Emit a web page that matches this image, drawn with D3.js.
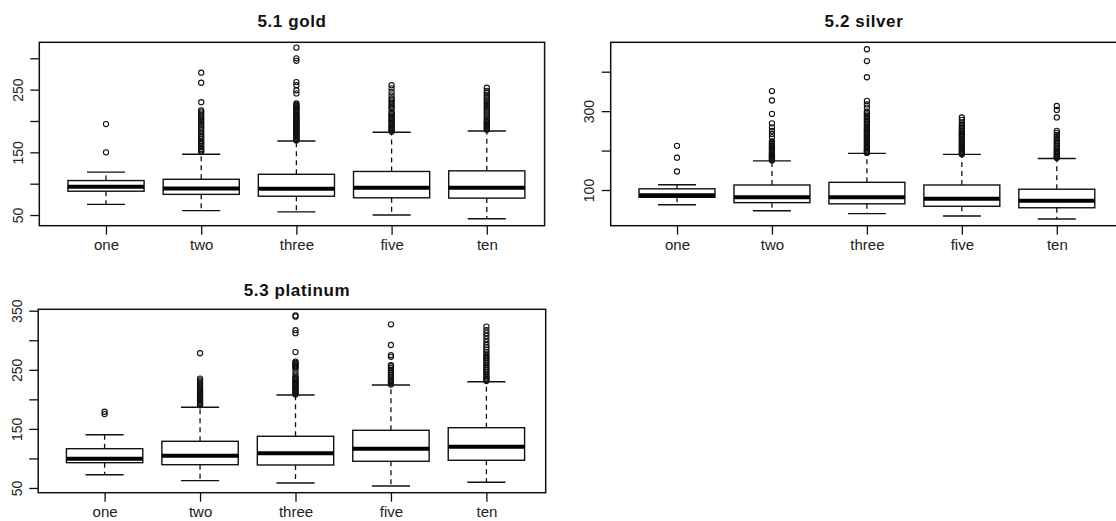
<!DOCTYPE html>
<html lang="en">
<head>
    <meta charset="UTF-8">
    <title>Boxplots gold silver platinum</title>
    <script src="https://d3js.org/d3.v7.min.js"></script>
    <style>
        body {
            margin: 0;
            background: #fff;
        }
        svg {
            display: block;
            font-family: "Liberation Sans", Arial, sans-serif;
        }
        .title {
            font-size: 17px;
            font-weight: bold;
            letter-spacing: 0.6px;
            fill: #111;
        }
        .axis text {
            font-size: 15px;
            fill: #222;
        }
        .axis line {
            stroke: #111;
            stroke-width: 1.3px;
        }
        .frame {
            fill: none;
            stroke: #111;
            stroke-width: 1.5px;
        }
        .box {
            fill: none;
            stroke: #111;
            stroke-width: 1.4px;
        }
        .median {
            stroke: #000;
            stroke-width: 4px;
        }
        .whisker {
            stroke: #111;
            stroke-width: 1.3px;
            stroke-dasharray: 5,4;
        }
        .cap {
            stroke: #111;
            stroke-width: 1.4px;
        }
        .outlier {
            fill: none;
            stroke: #111;
            stroke-width: 1.1px;
        }
    </style>
</head>
<body>

    <svg width="1116" height="521"></svg>

    <script>
        const categories = ["one", "two", "three", "five", "ten"];

        // 5.1 gold
        const goldLow = [67, 57, 55, 50, 44];
        const goldQ1 = [88, 83, 80, 77.5, 77];
        const goldMedian = [95, 92.5, 92, 93.5, 93.5];
        const goldQ3 = [105, 107, 115, 119.5, 120.5];
        const goldHigh = [118.5, 147, 168, 182, 184];
        const goldOutliers = [
            [150, 195],
            [151, 153, 155, 158, 160, 163, 165, 168, 171, 174, 176, 179, 182, 185, 188, 191, 194, 197, 200, 203, 206, 209, 212, 215, 217, 230, 261, 277],
            [169, 170, 172, 173, 175, 176, 178, 179, 181, 182, 184, 185, 187, 188, 190, 191, 193, 194, 196, 197, 199, 200, 202, 203, 205, 206, 208, 210, 212, 214, 216, 218, 220, 222, 224, 226, 228, 244, 249, 257, 262, 296, 300, 317],
            [183, 185, 187, 189, 191, 193, 195, 197, 199, 201, 203, 205, 207, 209, 211, 213, 215, 220, 222, 225, 228, 231, 234, 236, 241, 246, 252, 257],
            [186, 188, 190, 192, 194, 196, 198, 200, 203, 206, 209, 212, 215, 218, 221, 224, 227, 230, 233, 236, 239, 242, 245, 248, 253]
        ];
        const goldTicks = [50, 100, 150, 200, 250, 300];
        const goldLabels = [50, 150, 250];

        // 5.2 silver
        const silverLow = [62.7, 47.5, 40, 34, 26.5];
        const silverQ1 = [81.5, 68, 65, 58.7, 55];
        const silverMedian = [87, 81.5, 81.5, 78, 73];
        const silverQ3 = [103, 112.7, 119.5, 112.7, 102];
        const silverHigh = [113.4, 174, 193, 190.5, 180];
        const silverOutliers = [
            [147, 182, 212],
            [175, 177, 179, 181, 183, 185, 187, 189, 191, 193, 196, 199, 202, 205, 208, 211, 214, 217, 220, 223, 234, 242, 250, 259, 269, 293, 327, 351],
            [194, 196, 198, 200, 203, 206, 209, 212, 215, 218, 221, 224, 227, 230, 233, 236, 239, 242, 245, 248, 251, 254, 257, 260, 264, 268, 272, 276, 280, 284, 288, 292, 296, 299, 309, 317, 326, 386, 427, 457],
            [191, 193, 195, 198, 201, 204, 207, 210, 213, 216, 219, 222, 225, 228, 231, 234, 237, 240, 243, 246, 250, 254, 258, 262, 266, 271, 278, 284],
            [181, 183, 185, 188, 191, 194, 197, 200, 204, 208, 212, 216, 220, 225, 230, 235, 240, 245, 250, 284, 303, 313]
        ];
        const silverTicks = [100, 200, 300, 400];
        const silverLabels = [100, 300];

        // 5.3 platinum
        const platinumLow = [72.5, 62.4, 58.5, 53.4, 59.6];
        const platinumQ1 = [92.8, 89.4, 88.9, 95.2, 96.9];
        const platinumMedian = [99.6, 104.7, 108.7, 116.5, 119.9];
        const platinumQ3 = [116.5, 129, 137.5, 147.6, 152];
        const platinumHigh = [140.2, 186.5, 207.4, 224.3, 229.9];
        const platinumOutliers = [
            [175, 179],
            [190, 192, 194, 196, 198, 200, 202, 204, 206, 208, 210, 212, 214, 216, 218, 220, 223, 226, 229, 232, 235, 278],
            [208, 210, 212, 214, 216, 218, 220, 222, 224, 226, 228, 230, 232, 234, 236, 238, 242, 247, 252, 254, 256, 258, 260, 262, 264, 280, 312, 317, 340, 342],
            [225, 227, 229, 231, 233, 235, 238, 241, 244, 247, 250, 253, 256, 258, 272, 275, 292, 327],
            [231, 233, 235, 237, 240, 243, 246, 249, 252, 255, 258, 261, 264, 267, 270, 273, 276, 280, 284, 288, 292, 297, 302, 307, 312, 317, 323]
        ];
        const platinumTicks = [50, 100, 150, 200, 250, 300, 350];
        const platinumLabels = [50, 150, 250, 350];

        const panels = [
            { title: "5.1 gold", low: goldLow, q1: goldQ1, median: goldMedian, q3: goldQ3, high: goldHigh,
              outliers: goldOutliers, ticks: goldTicks, labels: goldLabels, domain: [33, 325.5],
              left: 39.3, right: 544.6, top: 42.3, bottom: 225.7, first: 106, last: 486.8, titleX: 292, titleY: 27 },
            { title: "5.2 silver", low: silverLow, q1: silverQ1, median: silverMedian, q3: silverQ3, high: silverHigh,
              outliers: silverOutliers, ticks: silverTicks, labels: silverLabels, domain: [9.5, 474.6],
              left: 610.7, right: 1124, top: 42.3, bottom: 225.7, first: 677, last: 1056.8, titleX: 864, titleY: 27 },
            { title: "5.3 platinum", low: platinumLow, q1: platinumQ1, median: platinumMedian, q3: platinumQ3, high: platinumHigh,
              outliers: platinumOutliers, ticks: platinumTicks, labels: platinumLabels, domain: [42, 352.4],
              left: 38.2, right: 545.7, top: 309.3, bottom: 492.7, first: 104.6, last: 486.4, titleX: 297, titleY: 296 }
        ];

        const svg = d3.select("svg");
        panels.forEach(p => drawPanel(p));

        function drawPanel(p) {
            const x = d3.scalePoint().domain(categories).range([p.first, p.last]);
            const y = d3.scaleLinear().domain(p.domain).range([p.bottom, p.top]);
            const boxWidth = 0.8 * x.step();
            const capWidth = boxWidth / 2;

            const g = svg.append("g");

            g.append("text")
                .attr("class", "title")
                .attr("x", p.titleX)
                .attr("y", p.titleY)
                .attr("text-anchor", "middle")
                .text(p.title);

            // y axis, labels parallel to the axis like base R
            const yAxis = g.append("g")
                .attr("class", "axis")
                .attr("transform", `translate(${p.left},0)`)
                .call(d3.axisLeft(y).tickValues(p.ticks).tickSize(9).tickSizeOuter(0)
                    .tickFormat(d => p.labels.includes(d) ? d : ""));
            yAxis.select(".domain").remove();
            yAxis.selectAll("text")
                .attr("transform", "rotate(-90)")
                .attr("x", 0)
                .attr("y", -16.5)
                .attr("dy", 0)
                .attr("text-anchor", "middle")
                .style("font-size", "14px");

            const xAxis = g.append("g")
                .attr("class", "axis")
                .attr("transform", `translate(0,${p.bottom})`)
                .call(d3.axisBottom(x).tickSize(9).tickSizeOuter(0));
            xAxis.select(".domain").remove();
            xAxis.selectAll("text")
                .attr("y", 24.5)
                .attr("dy", 0);

            const stats = categories.map((c, i) => ({
                cat: c, low: p.low[i], q1: p.q1[i], median: p.median[i], q3: p.q3[i], high: p.high[i]
            }));

            const box = g.append("g")
                .selectAll("g")
                .data(stats)
                .enter().append("g");

            box.append("line")
                .attr("class", "whisker")
                .attr("x1", d => x(d.cat)).attr("x2", d => x(d.cat))
                .attr("y1", d => y(d.q3)).attr("y2", d => y(d.high));
            box.append("line")
                .attr("class", "whisker")
                .attr("x1", d => x(d.cat)).attr("x2", d => x(d.cat))
                .attr("y1", d => y(d.q1)).attr("y2", d => y(d.low));

            box.append("line")
                .attr("class", "cap")
                .attr("x1", d => x(d.cat) - capWidth / 2).attr("x2", d => x(d.cat) + capWidth / 2)
                .attr("y1", d => y(d.high)).attr("y2", d => y(d.high));
            box.append("line")
                .attr("class", "cap")
                .attr("x1", d => x(d.cat) - capWidth / 2).attr("x2", d => x(d.cat) + capWidth / 2)
                .attr("y1", d => y(d.low)).attr("y2", d => y(d.low));

            box.append("rect")
                .attr("class", "box")
                .attr("x", d => x(d.cat) - boxWidth / 2)
                .attr("width", boxWidth)
                .attr("y", d => y(d.q3))
                .attr("height", d => y(d.q1) - y(d.q3));

            box.append("line")
                .attr("class", "median")
                .attr("x1", d => x(d.cat) - boxWidth / 2).attr("x2", d => x(d.cat) + boxWidth / 2)
                .attr("y1", d => y(d.median)).attr("y2", d => y(d.median));

            const points = [];
            categories.forEach((c, i) => p.outliers[i].forEach(v => points.push({ cat: c, value: v })));

            g.append("g")
                .selectAll("circle")
                .data(points)
                .enter().append("circle")
                .attr("class", "outlier")
                .attr("cx", d => x(d.cat))
                .attr("cy", d => y(d.value))
                .attr("r", 2.6);

            g.append("rect")
                .attr("class", "frame")
                .attr("x", p.left)
                .attr("y", p.top)
                .attr("width", p.right - p.left)
                .attr("height", p.bottom - p.top);
        }
    </script>

</body>
</html>
